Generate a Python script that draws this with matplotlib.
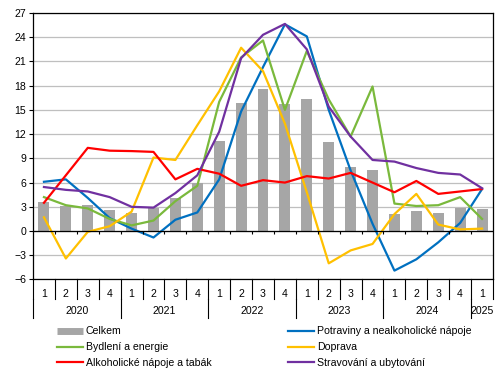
import matplotlib.pyplot as plt
import matplotlib.transforms as mtransforms
from matplotlib.lines import Line2D
import numpy as np

plt.rcParams['font.family'] = ['Liberation Sans', 'DejaVu Sans']
plt.rcParams['font.size'] = 7.6

# quarters 2020Q1 .. 2025Q1
quarters = ['1', '2', '3', '4'] * 5 + ['1']
years = ['2020', '2021', '2022', '2023', '2024', '2025']
year_centers = [1.5, 5.5, 9.5, 13.5, 17.5, 20]
year_bounds = [-0.5, 3.5, 7.5, 11.5, 15.5, 19.5]

celkem = [3.6, 3.1, 3.2, 2.6, 2.2, 2.8, 4.1, 6.0, 11.2, 15.8, 17.6,
          15.7, 16.4, 11.0, 7.9, 7.5, 2.1, 2.5, 2.2, 2.9, 2.7]
potraviny = [6.1, 6.4, 4.1, 1.6, 0.3, -0.8, 1.4, 2.3, 6.4, 14.8, 20.3,
             25.6, 24.1, 15.0, 7.5, 0.9, -4.9, -3.5, -1.4, 1.0, 5.2]
bydleni = [4.2, 3.2, 2.8, 1.5, 0.7, 1.3, 3.7, 5.6, 16.0, 21.5, 23.6,
           15.0, 22.3, 16.3, 11.7, 17.9, 3.4, 3.1, 3.2, 4.2, 1.5]
doprava = [1.7, -3.4, -0.1, 0.6, 2.4, 9.1, 8.8, 13.1, 17.3, 22.7, 19.8,
           13.3, 4.8, -4.0, -2.4, -1.6, 2.1, 4.6, 0.8, 0.2, 0.3]
alkohol = [3.5, 6.9, 10.3, 9.95, 9.9, 9.8, 6.4, 7.7, 7.1, 5.6, 6.3,
           6.0, 6.8, 6.5, 7.2, 6.0, 4.8, 6.2, 4.6, 4.9, 5.2]
stravovani = [5.45, 5.1, 4.9, 4.2, 3.0, 2.9, 4.7, 6.9, 12.3, 21.4, 24.3,
              25.65, 22.5, 15.4, 11.7, 8.8, 8.6, 7.8, 7.2, 7.0, 5.3]

c_gray = '#A6A6A6'
c_blue = '#0070C0'
c_green = '#7AB93C'
c_yellow = '#FFC000'
c_red = '#FF0000'
c_purple = '#7030A0'

fig = plt.figure(figsize=(4.97, 3.80), dpi=100)
ax = fig.add_axes([0.0664, 0.2645, 0.9256, 0.7013])

x = np.arange(len(quarters))
ax.bar(x, celkem, width=0.5, color=c_gray, zorder=2)
lw = 1.6
ax.plot(x, potraviny, color=c_blue, lw=lw, zorder=3)
ax.plot(x, bydleni, color=c_green, lw=lw, zorder=3)
ax.plot(x, doprava, color=c_yellow, lw=lw, zorder=3)
ax.plot(x, alkohol, color=c_red, lw=lw, zorder=3)
ax.plot(x, stravovani, color=c_purple, lw=lw, zorder=3)

ax.set_xlim(-0.5, 20.5)
ax.set_ylim(-6, 27)
ax.set_yticks(np.arange(-6, 28, 3))
ax.yaxis.grid(True, color='#BFBFBF', lw=0.9)
ax.set_axisbelow(True)
ax.tick_params(axis='y', length=3, width=0.8, pad=2)
for s in ax.spines.values():
    s.set_linewidth(0.9)

# zero line with small ticks
ax.axhline(0, color='black', lw=0.9, zorder=4)
bounds = np.arange(-0.5, 21, 1)
ax.vlines(bounds[1:-1], -0.4, 0, color='black', lw=0.8, zorder=4)

# category labels table below the plot
ax.set_xticks(x)
ax.set_xticklabels(quarters)
ax.tick_params(axis='x', length=0, pad=7)
trans = mtransforms.blended_transform_factory(ax.transData, ax.transAxes)
for b in bounds:
    ax.plot([b, b], [0, -0.072], color='black', lw=0.8,
            transform=trans, clip_on=False)
for b in year_bounds:
    ax.plot([b, b], [-0.072, -0.146], color='black', lw=0.8,
            transform=trans, clip_on=False)
for yc, yl in zip(year_centers, years):
    ax.text(yc, -0.12, yl, transform=trans, ha='center', va='center')

# legend in two columns
h1 = [Line2D([], [], color=c_gray, lw=5, solid_capstyle='butt'),
      Line2D([], [], color=c_green, lw=lw),
      Line2D([], [], color=c_red, lw=lw)]
l1 = ['Celkem', 'Bydlení a energie', 'Alkoholické nápoje a tabák']
h2 = [Line2D([], [], color=c_blue, lw=lw),
      Line2D([], [], color=c_yellow, lw=lw),
      Line2D([], [], color=c_purple, lw=lw)]
l2 = ['Potraviny a nealkoholické nápoje', 'Doprava', 'Stravování a ubytování']
leg_kw = dict(loc='upper left', frameon=False, handlelength=2.45,
              handletextpad=0.3, labelspacing=0.55, borderpad=0,
              borderaxespad=0)
fig.legend(h1, l1, bbox_to_anchor=(0.114, 0.141), **leg_kw)
fig.legend(h2, l2, bbox_to_anchor=(0.579, 0.141), **leg_kw)

fig.savefig('out.png', dpi=100)
